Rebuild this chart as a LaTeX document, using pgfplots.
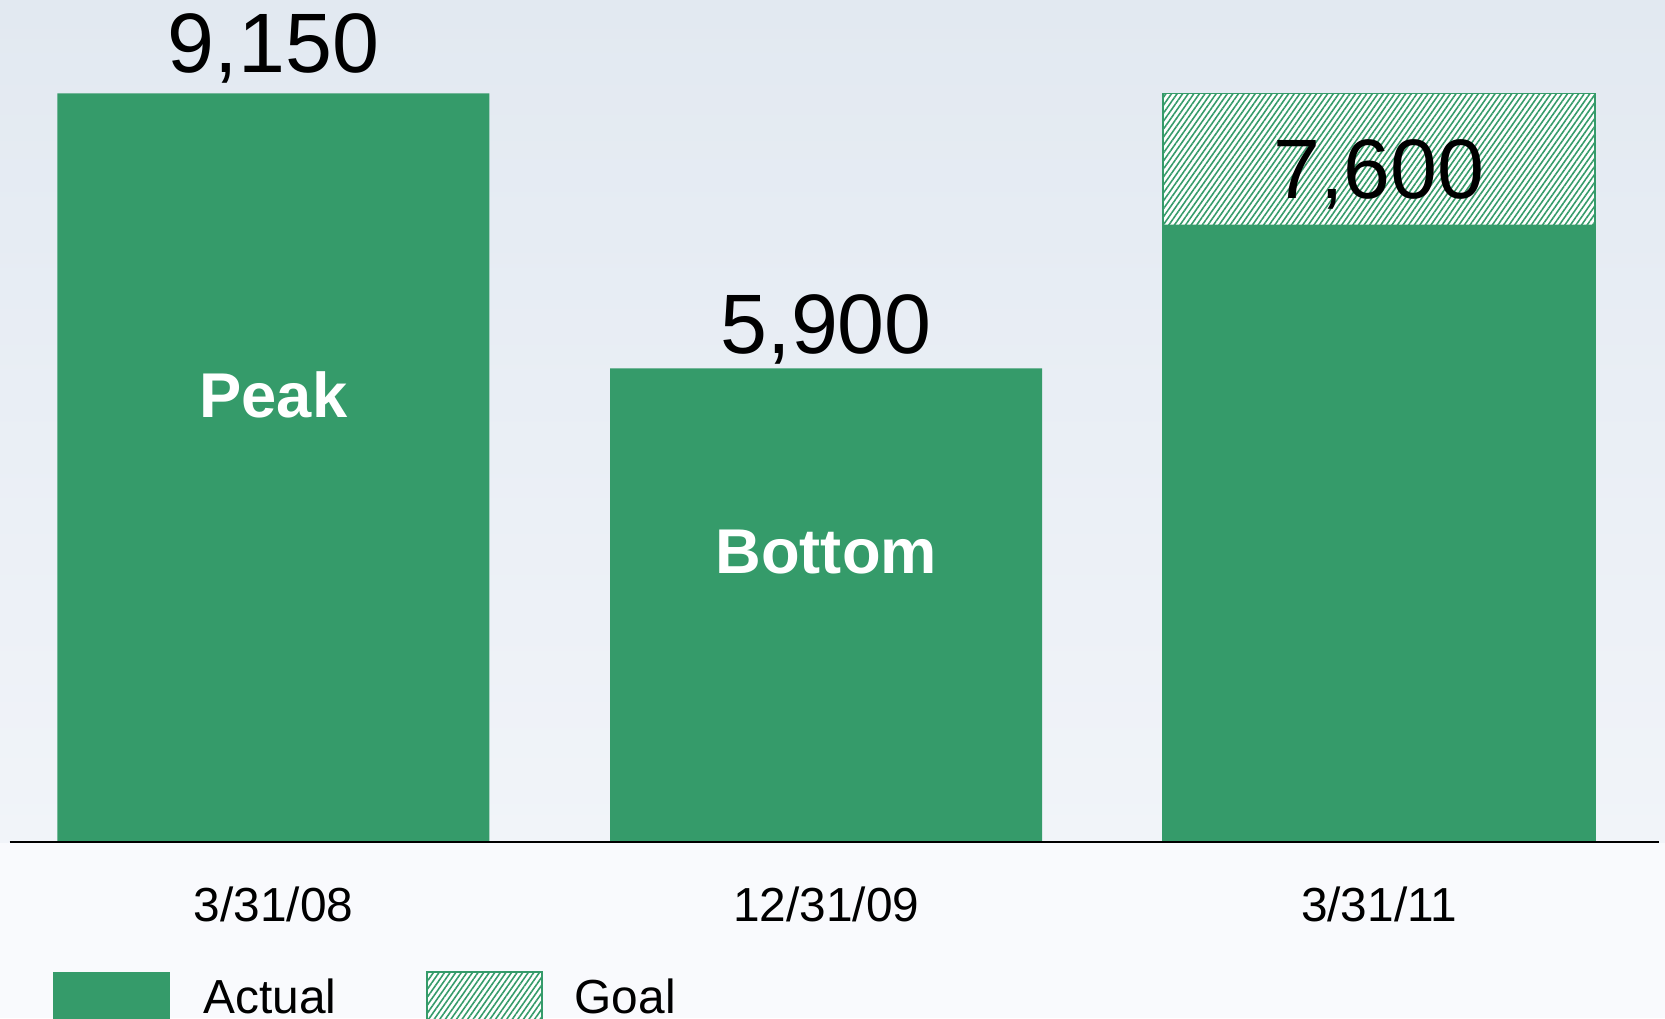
\documentclass[border=0pt]{standalone}
\usepackage{pgfplots}
\pgfplotsset{compat=1.18}
\usetikzlibrary{patterns.meta}
\usepackage{fontspec}
\setmainfont{Liberation Sans}
\definecolor{barGreen}{RGB}{53,155,106}
\definecolor{bgTop}{RGB}{226,233,241}
\definecolor{bgMid}{RGB}{241,244,249}
\definecolor{bgBot}{RGB}{249,250,253}
\begin{document}
\begin{tikzpicture}
\path[use as bounding box] (0,0) rectangle (16.65cm,10.18cm);
\fill[bgBot] (0,0) rectangle (16.65cm,1.76cm);
\shade[top color=bgTop, bottom color=bgMid] (0,1.76cm) rectangle (16.65cm,10.18cm);
\begin{axis}[
  at={(0.096cm,1.76cm)}, anchor=south west,
  scale only axis, width=16.494cm, height=8.628cm,
  xmin=-0.4774, xmax=2.5066, ymin=300, ymax=10500,
  hide y axis, axis x line=bottom,
  x axis line style={-, line width=0.45pt, black},
  xtick={0,1,2}, xticklabels={3/31/08,12/31/09,3/31/11},
  major tick length=0pt,
  xticklabel style={anchor=base, yshift=-7.9mm, inner sep=0pt, font=\fontsize{13.6}{16}\selectfont},
  ybar, bar width=4.32cm, bar shift=0pt,
  axis on top,
]
\addplot[fill=white, draw=barGreen, line width=0.5pt,
  postaction={pattern={Lines[angle=55,distance=1.3pt,line width=0.45pt]}, pattern color=barGreen}]
  coordinates {(2,9150)};
\addplot[fill=barGreen, draw=none] coordinates {(0,9150) (1,5900) (2,7600)};
\node[anchor=base, inner sep=0pt, font=\fontsize{24}{28}\selectfont] at (axis cs:0,9400) {9,150};
\node[anchor=base, inner sep=0pt, font=\fontsize{24}{28}\selectfont] at (axis cs:1,6074) {5,900};
\node[anchor=base, inner sep=0pt, font=\fontsize{24}{28}\selectfont] at (axis cs:2,7906) {7,600};
\node[anchor=base, inner sep=0pt, text=white, font=\bfseries\fontsize{18}{22}\selectfont] at (axis cs:0,5324) {Peak};
\node[anchor=base, inner sep=0pt, text=white, font=\bfseries\fontsize{18}{22}\selectfont] at (axis cs:1,3480) {Bottom};
\end{axis}
\fill[barGreen] (0.53cm,-0.1cm) rectangle (1.70cm,0.46cm);
\node[anchor=base west, inner sep=0pt, font=\fontsize{13.6}{16}\selectfont] at (2.03cm,0.05cm) {Actual};
\fill[white] (4.27cm,-0.1cm) rectangle (5.42cm,0.46cm);
\path[pattern={Lines[angle=55,distance=1.3pt,line width=0.45pt]}, pattern color=barGreen] (4.27cm,-0.1cm) rectangle (5.42cm,0.46cm);
\draw[barGreen, line width=0.5pt] (4.27cm,-0.1cm) rectangle (5.42cm,0.46cm);
\node[anchor=base west, inner sep=0pt, font=\fontsize{13.6}{16}\selectfont] at (5.74cm,0.05cm) {Goal};
\end{tikzpicture}
\end{document}
